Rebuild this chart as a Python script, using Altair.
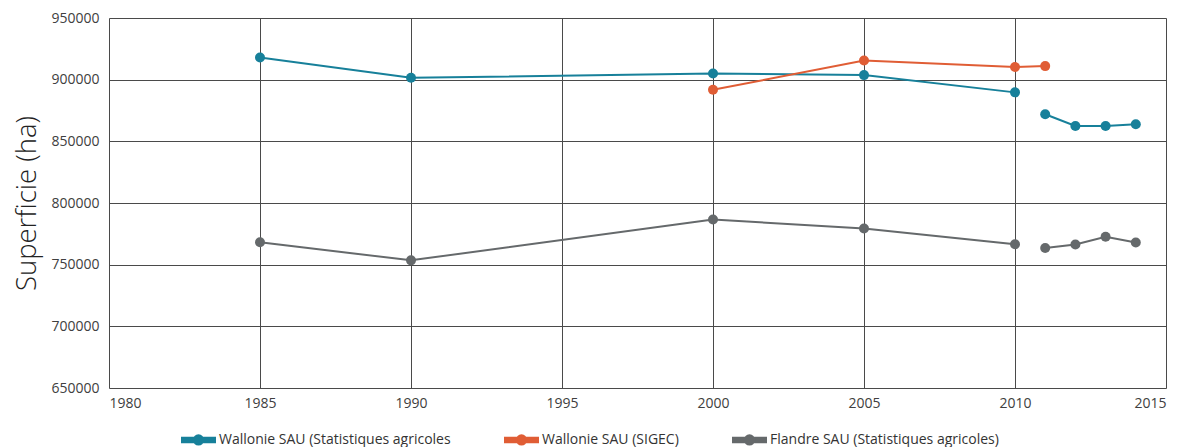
import altair as alt
import pandas as pd

series_names = ["Wallonie SAU (Statistiques agricoles",
                "Wallonie SAU (SIGEC)",
                "Flandre SAU (Statistiques agricoles)"]
colors = ["#17809a", "#e05d35", "#65696b"]
widths = [2, 2, 3]

wal_years = [1985, 1990, 2000, 2005, 2010, 2011, 2012, 2013, 2014]
wal_vals = [918000, 901500, 905000, 903700, 889700, 872000, 862400, 862400, 863800]
wal_seg = [1, 1, 1, 1, 1, 2, 2, 2, 2]

sig_years = [2000, 2005, 2010, 2011]
sig_vals = [891800, 915500, 910200, 911000]
sig_seg = [1, 1, 1, 1]

fla_years = [1985, 1990, 2000, 2005, 2010, 2011, 2012, 2013, 2014]
fla_vals = [768200, 753500, 786600, 779300, 766600, 763500, 766400, 772600, 768000]
fla_seg = [1, 1, 1, 1, 1, 2, 2, 2, 2]

rows = []
for name, yrs, vals, segs in [
    (series_names[0], wal_years, wal_vals, wal_seg),
    (series_names[1], sig_years, sig_vals, sig_seg),
    (series_names[2], fla_years, fla_vals, fla_seg),
]:
    for y, v, s in zip(yrs, vals, segs):
        rows.append({"Année": y, "Valeur": v, "Série": name, "seg": f"{name}-{s}"})
df = pd.DataFrame(rows)

FONT = "Open Sans"

legend_symbol = ("M-1,-0.14 L1,-0.14 L1,0.14 L-1,0.14 Z "
                 "M-0.28,0 A0.28,0.28 0 1,1 0.28,0 A0.28,0.28 0 1,1 -0.28,0 Z")

color_scale = alt.Scale(domain=series_names, range=colors)

x_enc = alt.X("Année:Q",
              scale=alt.Scale(domain=[1980, 2015], nice=False, zero=False),
              axis=alt.Axis(values=list(range(1980, 2016, 5)), format="d", title=None,
                            labelFont=FONT, labelFontSize=14, labelColor="#404040",
                            labelPadding=8, ticks=False, domain=False,
                            grid=True, gridColor="#4a4a4a", gridWidth=1))
y_enc = alt.Y("Valeur:Q",
              scale=alt.Scale(domain=[650000, 950000], nice=False, zero=False),
              axis=alt.Axis(values=list(range(650000, 950001, 50000)), format="d",
                            title="Superficie (ha)", titleFont=FONT, titleFontSize=27.5,
                            titleFontWeight=300, titleColor="#222222", titlePadding=9,
                            labelFont=FONT, labelFontSize=14, labelColor="#404040",
                            labelPadding=10, ticks=False, domain=False,
                            grid=True, gridColor="#4a4a4a", gridWidth=1))

color_enc = alt.Color("Série:N", scale=color_scale, sort=series_names,
                      legend=alt.Legend(title=None, orient="none", direction="horizontal",
                                        legendX=72, legendY=404, padding=0,
                                        symbolType=legend_symbol, symbolSize=1089,
                                        symbolStrokeWidth=0, symbolOpacity=1,
                                        labelFont=FONT, labelFontSize=14, labelLimit=400,
                                        labelColor="#333333", columnPadding=50,
                                        labelOffset=3))

lines = alt.Chart(df).mark_line().encode(
    x=x_enc, y=y_enc, color=color_enc, detail="seg:N",
    strokeWidth=alt.StrokeWidth("Série:N", scale=alt.Scale(domain=series_names, range=widths),
                                legend=None),
)
points = alt.Chart(df).mark_circle(size=100, opacity=1).encode(
    x="Année:Q", y="Valeur:Q",
    color=alt.Color("Série:N", scale=color_scale, sort=series_names, legend=None),
)

chart = (lines + points).properties(
    width=1057, height=370,
    padding={"top": 3, "left": 5, "right": 5, "bottom": 5},
).configure_view(
    stroke="#4a4a4a", strokeWidth=1
).configure(background="white")

chart.save("out.html", embed_options={"renderer": "svg", "actions": False})
